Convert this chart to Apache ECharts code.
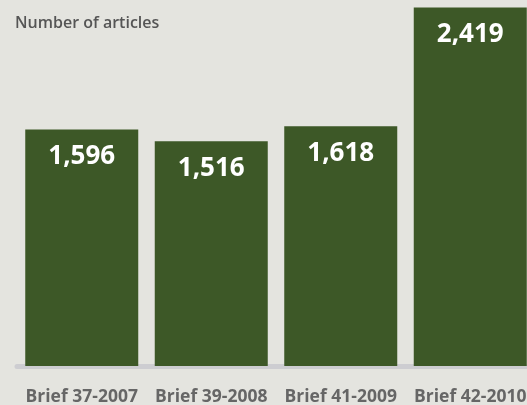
<!DOCTYPE html>
<html>
<head>
<meta charset="utf-8">
<script src="https://cdn.jsdelivr.net/npm/echarts@6/dist/echarts.min.js"></script>
<style>
  html, body { margin: 0; padding: 0; background: #e4e4df; }
  #chart { width: 527px; height: 405px; }
</style>
</head>
<body>
<div id="chart"></div>
<script>
// Articles counted in each brief
const categories = ['Brief 37-2007', 'Brief 39-2008', 'Brief 41-2009', 'Brief 42-2010'];
const articleCounts = [1596, 1516, 1618, 2419];
const yAxisTitle = 'Number of articles';

const chart = echarts.init(document.getElementById('chart'), null, { renderer: 'canvas' });

chart.setOption({
  backgroundColor: '#e4e4df',
  animation: false,
  title: {
    text: yAxisTitle,
    left: 10,
    top: 10,
    textStyle: {
      fontFamily: 'Open Sans',
      fontWeight: 600,
      fontSize: 16,
      color: '#555555'
    }
  },
  grid: {
    left: 17,
    width: 518,
    top: 0,
    bottom: 39,
    containLabel: false,
    outerBoundsMode: 'none'
  },
  xAxis: {
    type: 'category',
    data: categories,
    boundaryGap: true,
    offset: 5,
    axisLine: { show: true, lineStyle: { color: '#cdcdd1', width: 5 } },
    axisTick: { show: false },
    axisLabel: {
      interval: 0,
      hideOverlap: false,
      margin: 17,
      fontFamily: 'Open Sans',
      fontWeight: 'bold',
      fontSize: 17.5,
      color: '#666666'
    }
  },
  yAxis: {
    type: 'value',
    min: 0,
    max: 2470,
    show: false,
    splitLine: { show: false }
  },
  series: [{
    type: 'bar',
    data: articleCounts,
    barWidth: 113,
    itemStyle: { color: '#3d5827' },
    label: {
      show: true,
      position: 'insideTop',
      distance: 14,
      fontFamily: 'Open Sans',
      fontWeight: 'bold',
      fontSize: 26,
      color: '#ffffff',
      formatter: function (p) { return p.value.toLocaleString('en-US'); }
    }
  }]
});
</script>
</body>
</html>
